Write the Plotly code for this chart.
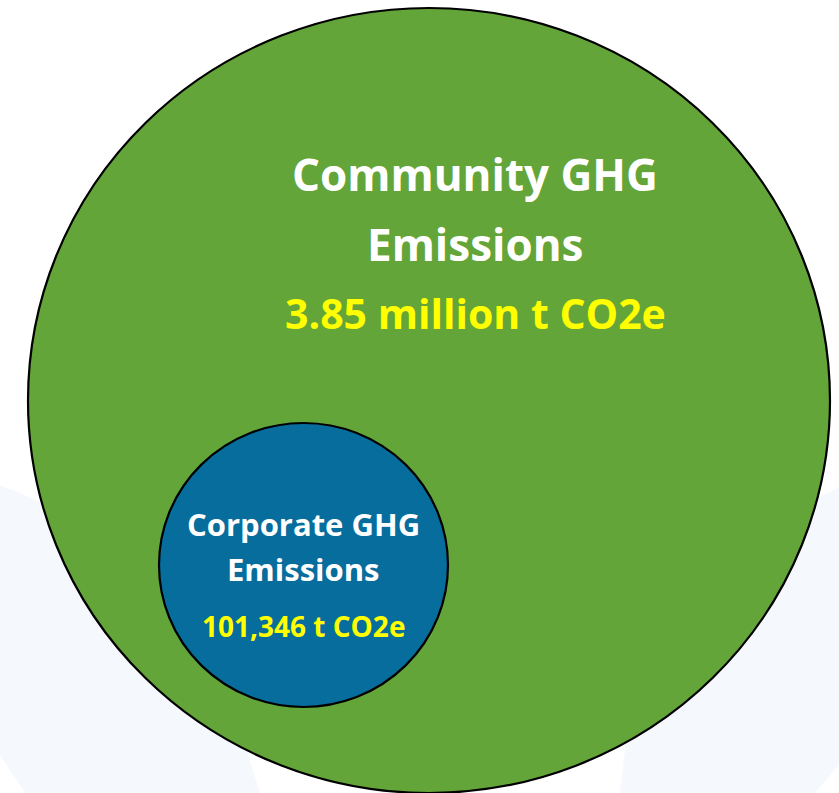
import plotly.graph_objects as go

# ---- data ----
categories = ["Community GHG Emissions", "Corporate GHG Emissions"]
emissions_t = [3850000, 101346]
value_labels = ["3.85 million t CO2e", "101,346 t CO2e"]

# ---- layout constants (pixel space of an 839x793 canvas) ----
W, H = 839, 793
circles = [
    dict(x0=28, x1=830, y0=8, y1=793, fill="#63A538"),   # community
    dict(x0=159, x1=448, y0=423, y1=707, fill="#066D9D"),  # corporate
]
text_pos = [
    dict(x=475, y_lines=[173.5, 243.5], y_val=313, size_title=44, size_val=41),
    dict(x=303.5, y_lines=[523.5, 568.5], y_val=626, size_title=31, size_val=28),
]
FONT = "Open Sans"

fig = go.Figure()
fig.add_trace(go.Scatter(x=[0, W], y=[0, H], mode="markers",
                         marker=dict(opacity=0), hoverinfo="skip", showlegend=False))

shapes = []
# faint watermark shapes in background
wm = "#F5F8FC"
shapes.append(dict(type="path", xref="x", yref="y", layer="below",
                   path="M 0 485 Q 90 520 200 600 L 260 793 L 25 793 L 0 755 Z",
                   fillcolor=wm, line=dict(width=0)))
shapes.append(dict(type="path", xref="x", yref="y", layer="below",
                   path="M 839 488 Q 760 520 640 620 L 620 793 L 815 793 L 839 765 Z",
                   fillcolor=wm, line=dict(width=0)))
for c in circles:
    shapes.append(dict(type="circle", xref="x", yref="y",
                       x0=c["x0"], x1=c["x1"], y0=c["y0"], y1=c["y1"],
                       fillcolor=c["fill"], line=dict(color="black", width=2.2),
                       layer="above"))

annotations = []
for name, val, tp in zip(categories, value_labels, text_pos):
    line1, line2 = name.rsplit(" ", 1)
    for txt, yy in zip([line1, line2], tp["y_lines"]):
        annotations.append(dict(x=tp["x"], y=yy, xref="x", yref="y", text=txt,
                                showarrow=False, xanchor="center", yanchor="middle",
                                font=dict(family=FONT, size=tp["size_title"],
                                          color="white", weight="bold")))
    annotations.append(dict(x=tp["x"], y=tp["y_val"], xref="x", yref="y", text=val,
                            showarrow=False, xanchor="center", yanchor="middle",
                            font=dict(family=FONT, size=tp["size_val"],
                                      color="#FFFF00", weight="bold")))

fig.update_layout(
    width=W, height=H,
    margin=dict(l=0, r=0, t=0, b=0),
    paper_bgcolor="white", plot_bgcolor="white",
    xaxis=dict(range=[0, W], visible=False, fixedrange=True),
    yaxis=dict(range=[H, 0], visible=False, fixedrange=True),
    shapes=shapes, annotations=annotations, showlegend=False,
)
fig.write_html("out.html", config={"displayModeBar": False},
               post_script="document.body.style.margin='0px';document.body.style.overflow='hidden';")
